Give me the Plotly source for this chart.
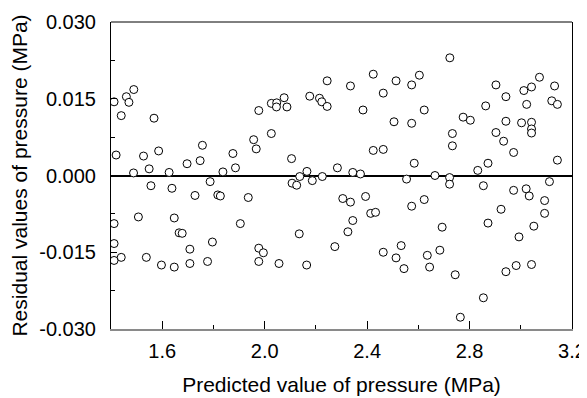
import plotly.graph_objects as go

# Predicted pressure (MPa) and residuals (MPa)
predicted = [
    1.412, 1.460, 1.470, 1.489, 1.440, 1.568, 1.420, 1.527, 1.586, 1.488,
    1.549, 1.627, 1.556, 1.638, 1.507, 1.412, 1.412, 1.412, 1.440, 1.538,
    1.597, 1.647, 1.647, 1.666, 1.678, 1.708, 1.708, 1.777, 1.796, 1.728,
    1.787, 1.817, 1.827, 1.837, 1.697, 1.748, 1.757, 1.876, 1.886, 1.936,
    1.905, 1.957, 1.967, 1.977, 1.977, 1.995, 1.977, 2.056, 2.026, 2.026,
    2.047, 2.046, 2.076, 2.087, 2.105, 2.107, 2.125, 2.137, 2.135, 2.165,
    2.186, 2.164, 2.176, 2.214, 2.223, 2.244, 2.244, 2.225, 2.274, 2.284,
    2.305, 2.335, 2.325, 2.344, 2.344, 2.374, 2.394, 2.335, 2.384, 2.414,
    2.433, 2.424, 2.463, 2.424, 2.463, 2.463, 2.513, 2.533, 2.544, 2.505,
    2.513, 2.554, 2.574, 2.574, 2.574, 2.584, 2.604, 2.623, 2.623, 2.635,
    2.644, 2.665, 2.684, 2.693, 2.722, 2.722, 2.723, 2.733, 2.733, 2.744,
    2.764, 2.775, 2.803, 2.832, 2.854, 2.854, 2.863, 2.872, 2.872, 2.903,
    2.903, 2.923, 2.933, 2.942, 2.942, 2.942, 2.972, 2.972, 2.982, 2.993,
    3.003, 3.012, 3.023, 3.021, 3.033, 3.042, 3.042, 3.042, 3.042, 3.042,
    3.051, 3.073, 3.093, 3.093, 3.112, 3.121, 3.132, 3.143, 3.143,
]
residual = [
    0.0144, 0.0154, 0.0143, 0.0168, 0.0117, 0.0112, 0.0040, 0.0038, 0.0048, 0.0005,
    0.0013, 0.0006, -0.0020, -0.0025, -0.0081, -0.0094, -0.0133, -0.0166, -0.0160, -0.0160,
    -0.0175, -0.0179, -0.0083, -0.0112, -0.0113, -0.0144, -0.0172, -0.0168, -0.0130, -0.0039,
    -0.0012, -0.0038, -0.0040, 0.0007, 0.0023, 0.0029, 0.0059, 0.0043, 0.0015, -0.0043,
    -0.0094, 0.0070, 0.0052, 0.0127, -0.0142, -0.0151, -0.0168, -0.0172, 0.0082, 0.0141,
    0.0142, 0.0134, 0.0152, 0.0134, 0.0033, -0.0015, -0.0019, -0.0002, -0.0114, 0.0008,
    -0.0010, -0.0175, 0.0155, 0.0151, 0.0144, 0.0185, 0.0135, -0.0002, -0.0139, 0.0015,
    -0.0045, -0.0052, -0.0110, -0.0088, 0.0006, 0.0003, -0.0041, 0.0175, 0.0128, -0.0074,
    -0.0072, 0.0049, 0.0051, 0.0198, 0.0161, -0.0150, -0.0161, -0.0137, -0.0182, 0.0105,
    0.0185, -0.0007, -0.0060, 0.0102, 0.0177, 0.0024, 0.0196, 0.0128, -0.0047, -0.0156,
    -0.0179, 0.0000, -0.0146, -0.0101, -0.0004, -0.0017, 0.0230, 0.0082, 0.0058, -0.0194,
    -0.0277, 0.0114, 0.0108, 0.0010, -0.0020, -0.0239, 0.0136, 0.0024, -0.0093, 0.0177,
    0.0084, -0.0066, 0.0067, 0.0154, 0.0106, -0.0188, 0.0045, -0.0029, -0.0176, -0.0120,
    0.0103, 0.0166, 0.0139, -0.0026, -0.0040, 0.0173, 0.0104, 0.0091, 0.0083, -0.0174,
    -0.0099, 0.0192, -0.0049, -0.0074, -0.0012, 0.0146, 0.0175, 0.0139, 0.0030,
]

x_range = [1.4, 3.2]
y_range = [-0.030, 0.030]
y_tick_vals = [-0.030, -0.015, 0.000, 0.015, 0.030]
y_tick_text = ["-0.030", "-0.015", "0.000", "0.015", "0.030"]
x_title = "Predicted value of pressure (MPa)"
y_title = "Residual values of pressure (MPa)"

FONT = "Liberation Sans, Arial, sans-serif"

fig = go.Figure()
fig.add_trace(go.Scatter(
    x=predicted, y=residual, mode="markers",
    marker=dict(symbol="circle", size=8, color="white",
                line=dict(color="black", width=1)),
    showlegend=False, hoverinfo="x+y",
))

# the page body adds an 8px offset, so the figure is 8px smaller and margins shifted
fig.update_layout(
    width=579, height=390,
    margin=dict(l=103, r=15, t=14, b=69),
    paper_bgcolor="white", plot_bgcolor="white",
    font=dict(family=FONT, size=20, color="black"),
    xaxis=dict(
        range=x_range, tickmode="linear", tick0=1.6, dtick=0.4, tickformat=".1f",
        ticks="inside", ticklen=8, tickwidth=1, tickcolor="black",
        minor=dict(ticks="inside", ticklen=4, tickwidth=1, tickcolor="black",
                   tickmode="linear", tick0=1.4, dtick=0.2, showgrid=False),
        showgrid=False, zeroline=False, automargin=False,
        showline=True, linecolor="#8a8a8a", linewidth=1.5, mirror=False,
        ticklabelstandoff=3,
        title=dict(text=x_title, font=dict(size=21), standoff=17),
        tickfont=dict(size=20),
    ),
    yaxis=dict(
        range=y_range, tickmode="array", tickvals=y_tick_vals, ticktext=y_tick_text,
        ticks="inside", ticklen=6, tickwidth=1, tickcolor="black",
        minor=dict(ticks="inside", ticklen=4, tickwidth=1, tickcolor="black",
                   tickmode="linear", tick0=-0.03, dtick=0.0075, showgrid=False),
        showgrid=False, automargin=False,
        zeroline=True, zerolinecolor="black", zerolinewidth=2,
        showline=True, linecolor="black", linewidth=1, mirror=True,
        ticklabelstandoff=10,
        title=dict(text=y_title, font=dict(size=21), standoff=9),
        tickfont=dict(size=20),
    ),
    shapes=[dict(type="line", xref="paper", yref="paper", x0=0, x1=1, y0=1, y1=1,
                 line=dict(color="black", width=1))],
)

fig.write_html("out.html")
